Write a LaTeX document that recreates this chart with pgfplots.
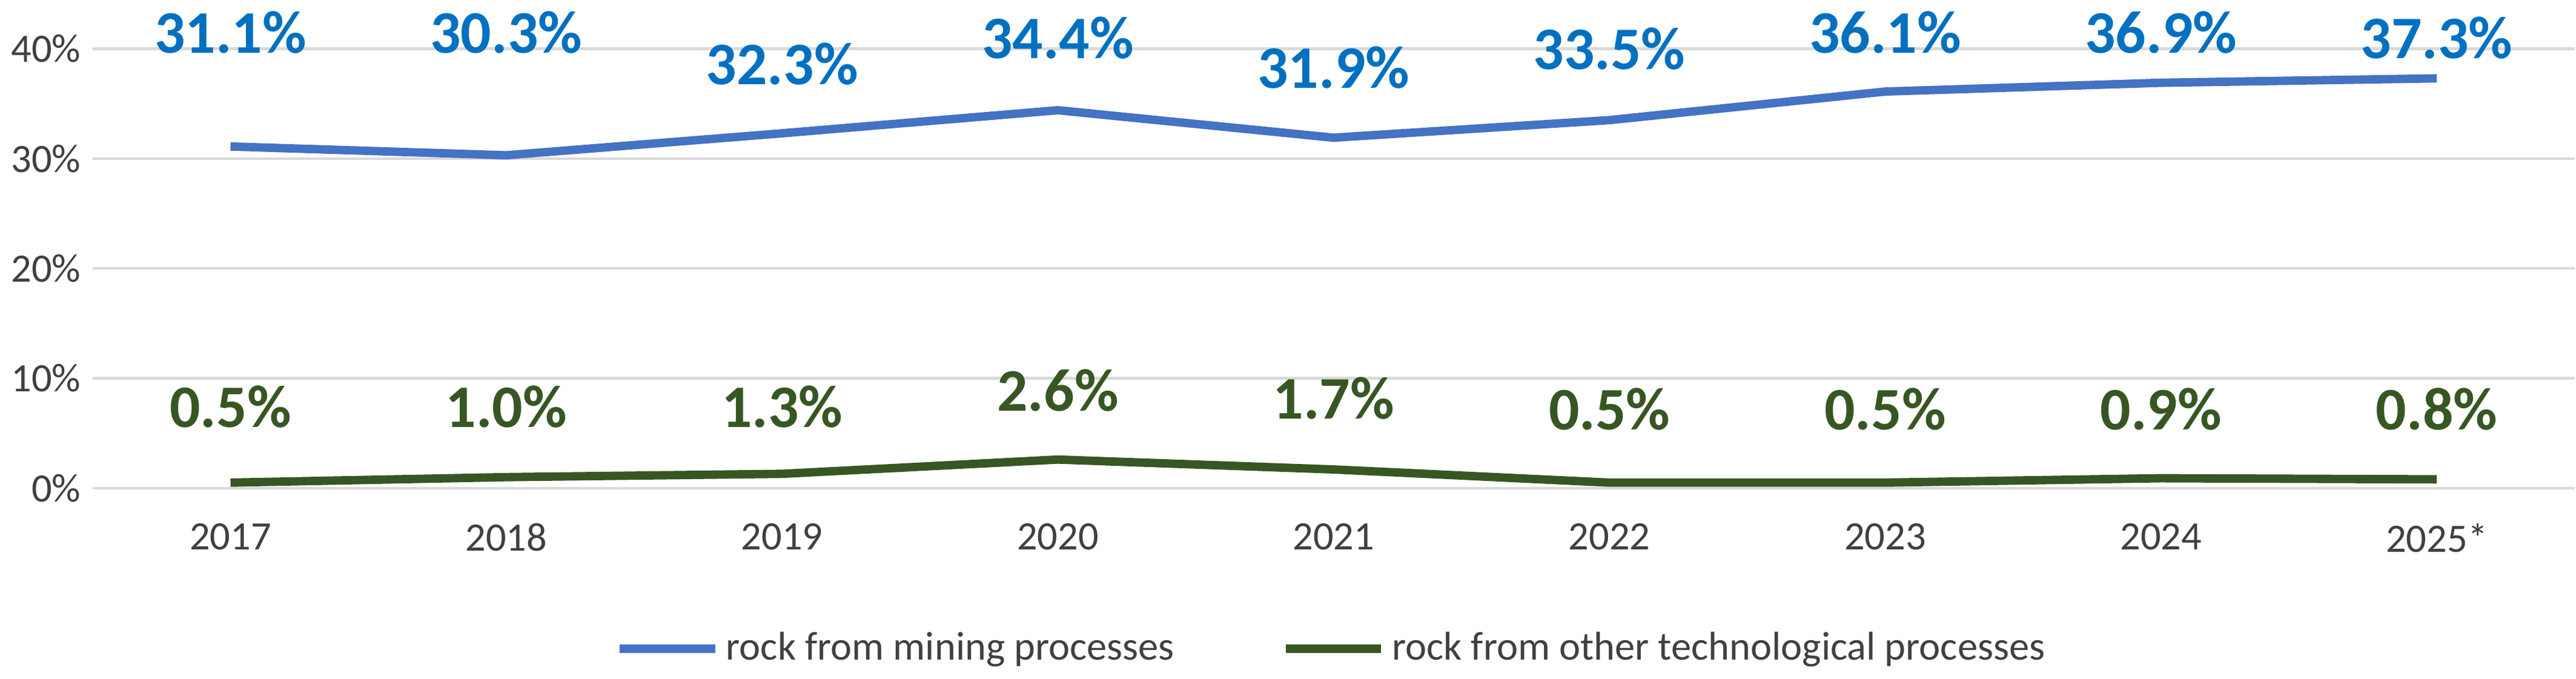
\documentclass[border=0pt]{standalone}
\usepackage{pgfplots}
\pgfplotsset{compat=1.18}
\usepackage{fontspec}
\setmainfont{Carlito}
\definecolor{bl}{HTML}{4472C4}
\definecolor{bll}{HTML}{0070C0}
\definecolor{gr}{HTML}{375623}
\begin{document}
\begin{tikzpicture}
\begin{axis}[
  scale only axis, width=740pt, height=131pt,
  xmin=-0.5, xmax=8.5, ymin=0, ymax=40,
  xtick={0,...,8}, xticklabels={2017,2018,2019,2020,2021,2022,2023,2024,2025*},
  ytick={0,10,20,30,40}, yticklabel={\pgfmathprintnumber{\tick}\%},
  /pgf/number format/assume math mode=true,
  ymajorgrids, grid style={draw=black!15, line width=0.8pt},
  axis line style={draw=none}, tick style={draw=none},
  tick label style={font=\fontsize{12}{14}\selectfont, text=black!75},
  xticklabel style={yshift=-7pt},
  clip=false,
  legend style={at={(0.5,-0.365)}, anchor=center, draw=none, legend columns=2,
    font=\fontsize{12}{14}\selectfont, text=black!75,
    /tikz/every even column/.append style={column sep=30pt}},
  legend image code/.code={\draw[#1] (0cm,0cm) -- (1.0cm,0cm);},
]
\addplot[bl, line width=2.5pt] coordinates {(0,31.1)(1,30.3)(2,32.3)(3,34.4)(4,31.9)(5,33.5)(6,36.1)(7,36.9)(8,37.3)};
\addlegendentry{rock from mining processes}
\addplot[gr, line width=2.5pt] coordinates {(0,0.5)(1,1.0)(2,1.3)(3,2.6)(4,1.7)(5,0.5)(6,0.5)(7,0.9)(8,0.8)};
\addlegendentry{rock from other technological processes}
\addplot[draw=none, forget plot, nodes near coords, point meta=explicit symbolic,
  every node near coord/.append style={anchor=center, font=\fontsize{18}{20}\selectfont\bfseries, text=bll}]
  coordinates {(0,41.5)[31.1\%] (1,41.5)[30.3\%] (2,38.6)[32.3\%] (3,41)[34.4\%] (4,38.3)[31.9\%] (5,40)[33.5\%] (6,41.5)[36.1\%] (7,41.5)[36.9\%] (8,41)[37.3\%]};
\addplot[draw=none, forget plot, nodes near coords, point meta=explicit symbolic,
  every node near coord/.append style={anchor=center, font=\fontsize{18}{20}\selectfont\bfseries, text=gr}]
  coordinates {(0,7.4)[0.5\%] (1,7.4)[1.0\%] (2,7.4)[1.3\%] (3,8.9)[2.6\%] (4,8.2)[1.7\%] (5,7.2)[0.5\%] (6,7.2)[0.5\%] (7,7.2)[0.9\%] (8,7.2)[0.8\%]};
\end{axis}
\end{tikzpicture}
\end{document}
